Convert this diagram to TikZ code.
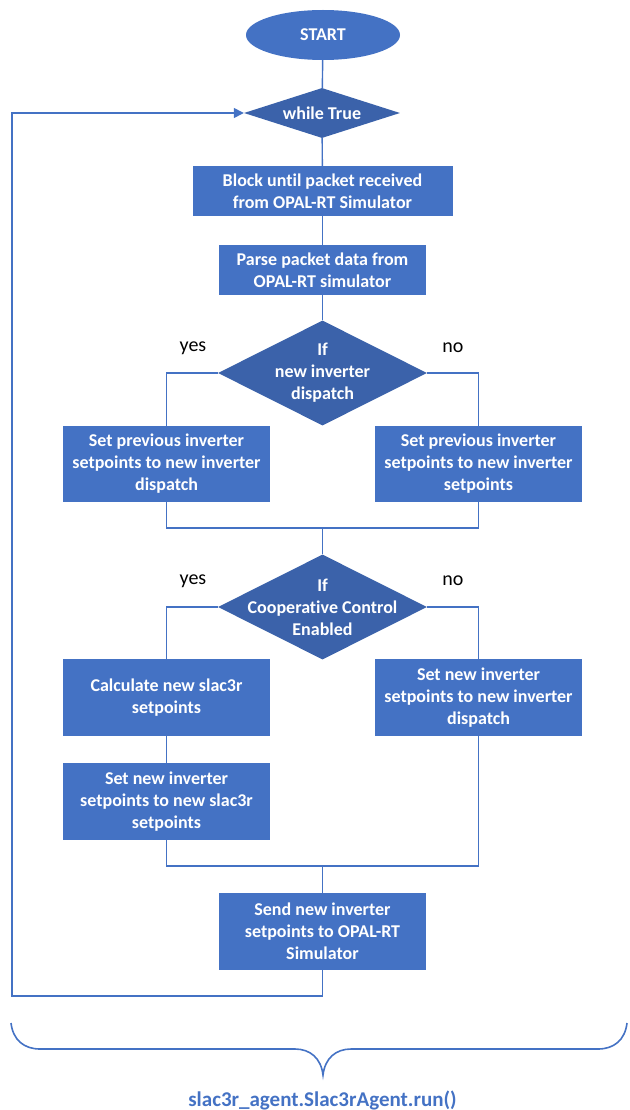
\documentclass[tikz,border=0pt]{standalone}
\usepackage{fontspec}
\setmainfont[Ligatures=NoCommon]{Carlito}
\usetikzlibrary{shapes.geometric,arrows.meta}
\definecolor{boxblue}{HTML}{4472C4}
\definecolor{diablue}{HTML}{3B62AA}
\begin{document}
\begin{tikzpicture}[x=1pt,y=-1pt,
  box/.style={rectangle, fill=boxblue, text=white, inner sep=0pt, align=center,
    font=\bfseries\fontsize{18}{22}\selectfont},
  dia/.style={diamond, fill=diablue, inner sep=0pt},
  diatext/.style={text=white, inner sep=0pt, align=center,
    font=\bfseries\fontsize{18}{22}\selectfont},
  lbl/.style={inner sep=0pt, font=\fontsize{20}{24}\selectfont},
  conn/.style={draw=boxblue, line width=1.4pt},
  brace/.style={draw=boxblue, line width=1.6pt}]
\useasboundingbox (0,0) rectangle (629,1110);

% start
\node[ellipse, fill=boxblue, text=white, inner sep=0pt, minimum width=154, minimum height=50,
  font=\bfseries\fontsize{18}{22}\selectfont] (start) at (323,35) {START};

% while True
\node[dia, minimum width=156, minimum height=50] (w) at (322,113) {};
\node[diatext] (wt) at (w.center) {while True};

% boxes
\node[box, minimum width=260, minimum height=50] (b1) at (322.5,191) {Block until packet received\\from OPAL-RT Simulator};
\node[box, minimum width=207, minimum height=50] (b2) at (322.5,270) {Parse packet data from\\OPAL-RT simulator};

\node[dia, minimum width=209, minimum height=105] (d1) at (322.5,373) {};
\node[diatext] (d1t) at (d1.center) {If\\new inverter\\dispatch};
\node[lbl] (y1) at (193,348) {yes};
\node[lbl] (n1) at (453,348) {no};

\node[box, minimum width=207, minimum height=76] (b3) at (166.5,464) {Set previous inverter\\setpoints to new inverter\\dispatch};
\node[box, minimum width=207, minimum height=76] (b4) at (478.5,464) {Set previous inverter\\setpoints to new inverter\\setpoints};

\node[dia, minimum width=209, minimum height=105] (d2) at (322.5,607) {};
\node[diatext] (d2t) at (d2.center) {If\\Cooperative Control\\Enabled};
\node[lbl] (y2) at (193,581) {yes};
\node[lbl] (n2) at (453,581) {no};

\node[box, minimum width=207, minimum height=77] (b5) at (166.5,697.5) {Calculate new slac3r\\setpoints};
\node[box, minimum width=207, minimum height=77] (b6) at (166.5,801.5) {Set new inverter\\setpoints to new slac3r\\setpoints};
\node[box, minimum width=207, minimum height=77] (b7) at (478.5,697.5) {Set new inverter\\setpoints to new inverter\\dispatch};

\node[box, minimum width=207, minimum height=77] (send) at (322.5,931.5) {Send new inverter\\setpoints to OPAL-RT\\Simulator};

% helper coordinates
\coordinate (m1) at (322.5,528);
\coordinate (m2) at (322.5,866);
\coordinate (lp) at (12,996);

% connectors
\draw[conn] (start) -- (w);
\draw[conn] (w) -- (b1);
\draw[conn] (b1) -- (b2);
\draw[conn] (b2) -- (d1);
\draw[conn] (d1.west) -| (b3.north);
\draw[conn] (d1.east) -| (b4.north);
\draw[conn] (b3.south) -- (b3.south |- m1) -- (b4.south |- m1) -- (b4.south);
\draw[conn] (m1) -- (d2);
\draw[conn] (d2.west) -| (b5.north);
\draw[conn] (d2.east) -| (b7.north);
\draw[conn] (b5) -- (b6);
\draw[conn] (b6.south) -- (b6.south |- m2) -- (b7.south |- m2) -- (b7.south);
\draw[conn] (m2) -- (send);
\draw[conn, -{Triangle[length=10pt,width=10pt]}] (send.south) |- (lp) |- (w.west);

% brace
\draw[brace] (11,1023) .. controls (13,1040) and (24,1049) .. (40,1049)
  -- (295,1049) .. controls (310,1049) and (321,1058) .. (323,1075)
  .. controls (325,1058) and (336,1049) .. (351,1049)
  -- (598,1049) .. controls (614,1049) and (625,1040) .. (627,1023);

\node[inner sep=0pt, anchor=base, text=boxblue, font=\bfseries\fontsize{21}{25}\selectfont] (title) at (322.5,1106) {slac3r\_agent.Slac3rAgent.run()};
\end{tikzpicture}
\end{document}
